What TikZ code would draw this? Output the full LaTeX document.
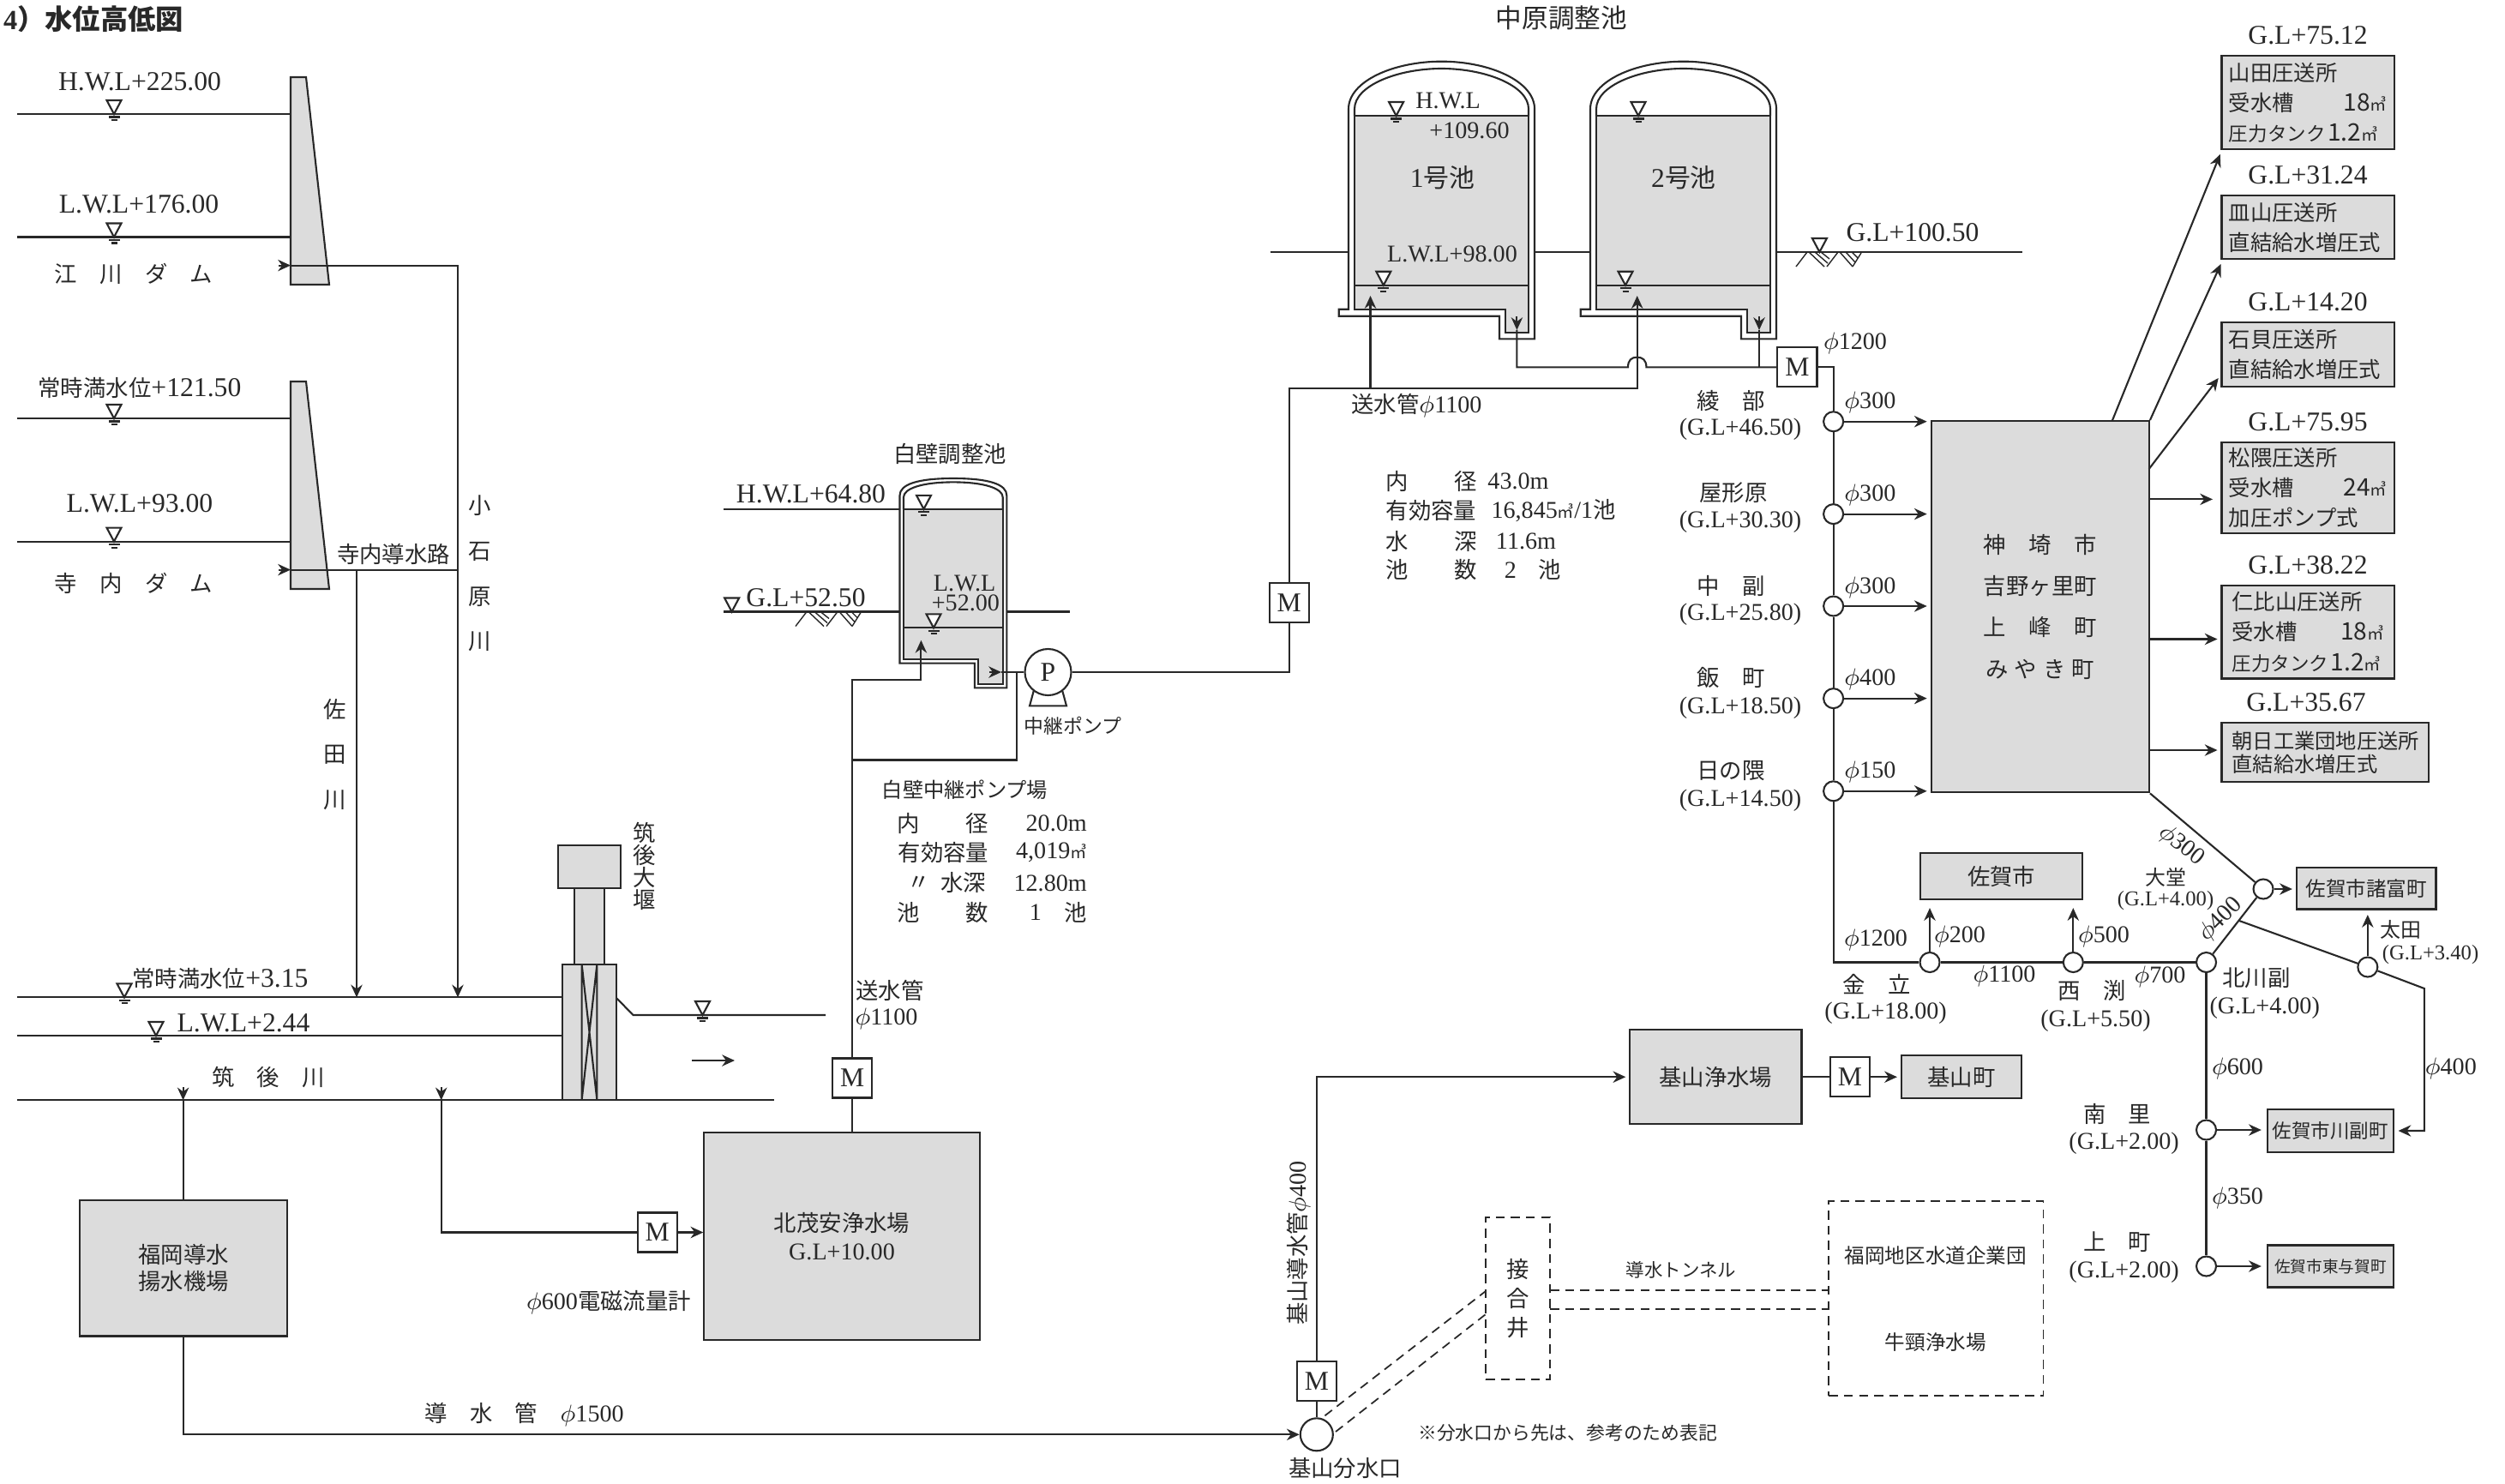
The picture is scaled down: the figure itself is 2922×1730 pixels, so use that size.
\documentclass[tikz,border=0pt]{standalone}
\usepackage{fontspec}
\usepackage{xcolor}
\usetikzlibrary{arrows.meta,positioning,shapes}
\setmainfont{Liberation Serif}
\newfontfamily\jp{Noto Sans CJK JP}
\definecolor{ink}{RGB}{40,40,40}
\definecolor{basegray}{RGB}{220,220,220}
\newcommand{\fsjp}{\fontsize{7.5}{9}\selectfont}
\newcommand{\fsnum}{\fontsize{9}{11}\selectfont}
\newcommand{\fsnar}{\fontsize{8}{10}\selectfont}
\newcommand{\jt}[1]{{\jp\fsjp #1}}
\newcommand{\jts}[1]{{\jp\fontsize{6.4}{8}\selectfont #1}}
\newcommand{\cbm}{{\jp\fontsize{5.5}{6}\selectfont ㎥}}
\newcommand{\dia}{$\phi$}
\newcommand{\wtri}[2]{\draw[fill=white] (#1-8.5,#2-16) -- (#1+8.5,#2-16) -- (#1,#2) -- cycle;}
\newcommand{\wlevel}[2]{\wtri{#1}{#2}
  \draw (#1-6.5,#2+3.5) -- (#1+6.5,#2+3.5) (#1-3.5,#2+7) -- (#1+3.5,#2+7);}
\newcommand{\hatchg}[2]{\draw[line width=0.4pt] (#1,#2+17) -- (#1+13,#2) (#1+36,#2+17) -- (#1+49,#2) (#1+66,#2+17) -- (#1+76,#2+1)
  (#1+15,#2) -- (#1+33,#2+17) (#1+22,#2) -- (#1+37,#2+13) (#1+29,#2) -- (#1+39,#2+8)
  (#1+51,#2) -- (#1+66,#2+17) (#1+58,#2) -- (#1+69,#2+12) (#1+65,#2) -- (#1+72,#2+7);}
\newcommand{\damwall}[1]{\draw[fill=basegray] (339,#1) -- (357,#1) -- (384,#1+242) -- (339,#1+242) -- cycle;}
\newcommand{\tankbody}{
  \draw[fill=white] (1573,360.7) -- (1573,127) .. controls (1573,95) and (1625,71.7) .. (1681.5,71.7) .. controls (1738,71.7) and (1790,95) .. (1790,127) -- (1790,395.3) -- (1749,395.3) -- (1749,368.7) -- (1561.7,368.7) -- (1561.7,360.7) -- cycle;
  \draw (1580,135) -- (1580,127) .. controls (1580,100) and (1630,80) .. (1681.5,80) .. controls (1733,80) and (1783,100) .. (1783,127) -- (1783,135);
  \draw[fill=basegray] (1580,135) -- (1783,135) -- (1783,388) -- (1756,388) -- (1756,360.7) -- (1580,360.7) -- cycle;
  \draw (1580,332.7) -- (1783,332.7);}
\tikzset{
  jtext/.style={font=\jp\fsjp},
  num/.style={font=\fsnum},
  nar/.style={font=\fsnar},
  vtext/.style={align=center,font=\jp\fontsize{7.5}{#1}\selectfont},
  plant/.style={draw,fill=basegray,align=center,font=\jp\fsjp},
  town/.style={draw,fill=basegray,align=left,font=\jp\fontsize{7.2}{10}\selectfont},
  meter/.style={draw,fill=white,minimum width=0.46cm,minimum height=0.46cm,font=\fsnum},
  valve/.style={draw,circle,fill=white,minimum size=0.23cm},
  broken/.style={densely dashed,line width=0.5pt}
}
\begin{document}
\begin{tikzpicture}[x=0.01cm,y=-0.01cm,line width=0.6pt,color=ink,>={Stealth[length=4.2pt,width=3.8pt]},every node/.style={inner sep=0pt}]
\useasboundingbox (0,0) rectangle (2922,1730);
\node[anchor=west,font=\fontsize{9.2}{11}\selectfont\bfseries] (title) at (3,22) {4{\jp ）水位高低図}};

\damwall{90}
\damwall{445}
\draw (20,133) -- (339,133);
\draw (20,276.5) -- (339,276.5);
\draw (20,488) -- (339,488);
\draw (20,631.6) -- (339,631.6);
\wlevel{133}{133}
\wlevel{133}{276.5}
\wlevel{133}{488}
\wlevel{133}{631.6}
\node[num] (hwlEgawa) at (163,95) {H.W.L+225.00};
\node[num] (lwlEgawa) at (162,238) {L.W.L+176.00};
\node[jtext] (egawa) at (156,319) {江　川　ダ　ム};
\node[num] (hwlTera) at (163,452) {\jt{常時満水位}+121.50};
\node[num] (lwlTera) at (163,587.5) {L.W.L+93.00};
\node[jtext] (terauchi) at (156,680) {寺　内　ダ　ム};
\node[jtext] (terauchiCh) at (459,646) {寺内導水路};
\node[vtext=15] (koishi) at (560,669) {小\\石\\原\\川};
\node[vtext=15] (sada) at (391,880) {佐\\田\\川};

\coordinate (egawaTail) at (325,309.6);
\coordinate (egawaIn) at (339,309.6);
\coordinate (teraTail) at (325,664.6);
\coordinate (teraIn) at (339,664.6);
\coordinate (koishiEnd) at (534,1163.4);
\coordinate (teraJoin) at (534,664.6);
\coordinate (sadaTop) at (416,664.6);
\coordinate (sadaEnd) at (416,1163.4);
\draw[->] (egawaTail) -- (egawaIn);
\draw[->] (teraTail) -- (teraIn);
\draw[->] (egawaIn) -| (koishiEnd);
\draw (teraIn) -- (teraJoin);
\draw[->] (sadaTop) -- (sadaEnd);

\draw (20,1163.4) -- (656,1163.4);
\draw (20,1208) -- (656,1208);
\draw (20,1283.3) -- (903,1283.3);
\draw[fill=basegray] (651,986) rectangle (724,1035.6);
\draw[fill=basegray] (670,1035.6) rectangle (705,1124.6);
\draw[fill=basegray] (656,1124.6) rectangle (719,1283.3);
\draw (678.6,1124.6) -- (678.6,1283.3) (696.4,1124.6) -- (696.4,1283.3) (678.6,1124.6) -- (696.4,1283.3) (696.4,1124.6) -- (678.6,1283.3);
\draw (719,1164) -- (738.5,1184) -- (963,1184);
\wlevel{145}{1163.4}
\wlevel{182}{1208}
\wlevel{819.5}{1184}
\node[num] (fullTikugo) at (257,1141.5) {\jt{常時満水位}+3.15};
\node[num] (lwlTikugo) at (284,1193) {L.W.L+2.44};
\node[jtext] (tikugo) at (313,1256) {筑　後　川};
\node[vtext=7.4] (weir) at (752,1010) {筑\\後\\大\\堰};
\coordinate (flowTail) at (807,1237);
\coordinate (flowHead) at (857,1237);
\draw[->] (flowTail) -- (flowHead);

\node[plant,minimum width=2.42cm,minimum height=1.585cm,font=\jp\fontsize{7.5}{8.8}\selectfont] (fukuoka) at (214,1479.2) {福岡導水\\揚水機場};
\node[plant,minimum width=3.21cm,minimum height=2.42cm,font=\fontsize{8}{9.4}\selectfont] (kita) at (982,1442) {\jt{北茂安浄水場}\\G.L+10.00};
\node[meter] (mSaga) at (766.7,1437.5) {M};
\node[meter] (mKita) at (994.3,1257.5) {M};
\node[nar] (flowmeter) at (710,1519.6) {\dia{}600\jt{電磁流量計}};
\node[nar] (sendB) at (1038,1155) {\jt{送水管}};
\node[nar] (sendD) at (1034,1188) {\dia{}1100};
\node[nar] (intakeLbl) at (611.6,1650.5) {\jt{導　水　管　}\dia{}1500};
\coordinate (fukuTail) at (213.6,1268);
\coordinate (fukuIn) at (213.6,1283.3);
\coordinate (sagaTail) at (514.7,1268);
\coordinate (sagaIn) at (514.7,1283.3);
\draw[->] (fukuTail) -- (fukuIn);
\draw (fukuIn) -- (fukuoka.north -| fukuIn);
\draw[->] (sagaTail) -- (sagaIn);
\draw (sagaIn) |- (mSaga);
\draw[->] (mSaga) -- (kita.west |- mSaga);
\draw (mKita) -- (mKita |- kita.north);

\draw[fill=white] (1049.5,773.6) -- (1049.5,578) .. controls (1049.5,565) and (1070,558) .. (1112,558) .. controls (1154,558) and (1174.3,565) .. (1174.3,578) -- (1174.3,802.3) -- (1136.8,802.3) -- (1136.8,773.6) -- cycle;
\draw (1054,593.8) -- (1054,580) .. controls (1054,570) and (1075,562.4) .. (1112,562.4) .. controls (1149,562.4) and (1169.7,570) .. (1169.7,580) -- (1169.7,593.8);
\draw[fill=basegray] (1054,593.8) -- (1169.7,593.8) -- (1169.7,797.7) -- (1141.4,797.7) -- (1141.4,769) -- (1054,769) -- cycle;
\draw (1054,732.3) -- (1169.7,732.3);
\draw (844.4,593.8) -- (1049.5,593.8);
\draw (844.4,713.5) -- (1049.5,713.5);
\draw (1174.3,713.5) -- (1247.8,713.5);
\wlevel{1077.5}{593.8}
\wlevel{1089}{732.3}
\wtri{853.6}{713.5}
\hatchg{928}{713.5}
\node[jtext] (shirakabe) at (1108,529) {白壁調整池};
\node[num] (hwlShira) at (946,576) {H.W.L+64.80};
\node[num] (glShira) at (940,697) {G.L+52.50};
\node[nar] (lwlShira) at (1125,680) {L.W.L};
\node[nar] (lwlShiraV) at (1126.4,703.6) {+52.00};
\node[draw,circle,fill=white,minimum size=0.54cm,font=\fsnum] (pump) at (1222.5,784) {P};
\draw (1205.7,806) -- (1201,823.4) -- (1244,823.4) -- (1239.3,806);
\node[font=\jp\fontsize{6.5}{8}\selectfont] (relay) at (1251.6,847) {中継ポンプ};
\coordinate (pumpTail) at (1154,784);
\coordinate (pumpIn) at (1168,784);
\coordinate (pumpT) at (1185.8,784);
\coordinate (relayJoin) at (994.3,886.5);
\coordinate (upBend) at (994.3,792.8);
\coordinate (shiraIn) at (1074.4,746.8);
\draw[->] (pumpTail) -- (pumpIn);
\draw (pump) -- (pumpIn);
\draw (pumpT) |- (relayJoin);
\draw[->] (mKita) -- (upBend) -| (shiraIn);

\node[anchor=west,font=\jp\fontsize{6.9}{8}\selectfont] (relayName) at (1027.7,921) {白壁中継ポンプ場};
\node[jtext] (rowA) at (1060,960.4) {内};
\node[jtext] (rowAb) at (1140,960.4) {径};
\node[nar,anchor=east] (rowAv) at (1268.8,960.4) {20.0m};
\node[jtext] (rowB) at (1100.4,994.4) {有効容量};
\node[nar,anchor=east] (rowBv) at (1268.8,994.4) {4,019\cbm};
\node[jtext] (rowC) at (1071.7,1030) {〃};
\node[jtext] (rowCb) at (1123.4,1030) {水深};
\node[nar,anchor=east] (rowCv) at (1268.8,1030) {12.80m};
\node[jtext] (rowD) at (1060,1064.5) {池};
\node[jtext] (rowDb) at (1140,1064.5) {数};
\node[nar] (rowDv) at (1208,1064.5) {1};
\node[jtext] (rowDu) at (1255,1064.5) {池};

\draw (1481.6,294) -- (1573,294);
\draw (1790,294) -- (1855,294);
\draw (2072,294) -- (2358.7,294);
\tankbody
\begin{scope}[shift={(282,0)}]
\tankbody
\end{scope}
\wlevel{1628.6}{135}
\wlevel{1613.8}{332.7}
\wlevel{1911}{135}
\wlevel{1896}{332.7}
\wtri{2122.4}{294}
\hatchg{2095}{294}
\node[font=\jp\fontsize{8.7}{10}\selectfont] (nakabaru) at (1821.4,20.7) {中原調整池};
\node[nar] (hwlNaka) at (1689,117) {H.W.L};
\node[nar] (hwlNakaV) at (1714,152.7) {+109.60};
\node[nar] (lwlNaka) at (1694,296) {L.W.L+98.00};
\node[num] (poolA) at (1682.7,206.7) {1{\jp\fontsize{8.5}{10}\selectfont 号池}};
\node[num] (poolB) at (1964,206.7) {2{\jp\fontsize{8.5}{10}\selectfont 号池}};
\node[num] (glNaka) at (2231,270.7) {G.L+100.50};
\node[meter] (mTrans) at (1503.6,702.7) {M};
\node[meter] (mNaka) at (2096.4,428.3) {M};
\node[nar] (sendNaka) at (1652.4,472.8) {\jt{送水管}\dia{}1100};
\node[nar] (dia1200) at (2164,400) {\dia{}1200};
\coordinate (transBend) at (1503.6,452.7);
\coordinate (feedA) at (1598.5,452.7);
\coordinate (inA) at (1598.5,345);
\coordinate (inB) at (1909.7,345);
\coordinate (outATail) at (1769.4,369);
\coordinate (outA) at (1769.4,385);
\coordinate (outBTail) at (2052,369);
\coordinate (outB) at (2052,385);
\coordinate (outBJoin) at (2052,428.3);
\coordinate (hopL) at (1899,428.3);
\coordinate (hopT) at (1909.7,416.7);
\coordinate (hopR) at (1920.4,428.3);
\draw (pump) -| (mTrans);
\draw[->] (mTrans) -- (transBend) -| (inB);
\draw[->] (feedA) -- (inA);
\draw[->] (outATail) -- (outA);
\draw[->] (outBTail) -- (outB);
\draw (outB) -- (outBJoin);
\draw (outA) |- (hopL) .. controls (1899,420) and (1903,416.7) .. (hopT) .. controls (1916,416.7) and (1920.4,420) .. (hopR) -- (mNaka);

\node[jtext] (rowE) at (1630,561.7) {内};
\node[jtext] (rowEb) at (1709.6,561.7) {径};
\node[nar] (rowEv) at (1771,561.7) {43.0m};
\node[jtext] (rowF) at (1669.4,596) {有効容量};
\node[nar] (rowFv) at (1812,596) {16,845\cbm/1\jt{池}};
\node[jtext] (rowG) at (1630,631.7) {水};
\node[jtext] (rowGb) at (1709.6,631.7) {深};
\node[nar] (rowGv) at (1780,631.7) {11.6m};
\node[jtext] (rowH) at (1630,664.8) {池};
\node[jtext] (rowHb) at (1709.6,664.8) {数};
\node[nar] (rowHv) at (1761.8,664.8) {2};
\node[jtext] (rowHu) at (1808,664.8) {池};

\node[plant,minimum width=2.54cm,minimum height=4.33cm,font=\jp\fontsize{7.5}{13.7}\selectfont] (central) at (2379.8,707.7) {神　埼　市\\吉野ヶ里町\\上　峰　町\\み\hspace{2pt}や\hspace{2pt}き\hspace{2pt}町};
\node[valve] (ayabe) at (2138.6,491.7) {};
\node[valve] (yakata) at (2138.6,599.6) {};
\node[valve] (nakasoe) at (2138.6,707) {};
\node[valve] (iimachi) at (2138.6,814.6) {};
\node[valve] (hinokuma) at (2138.6,922.8) {};
\node[jtext] (ayabeN) at (2019,467) {綾　部};
\node[nar] (ayabeG) at (2030,501) {(G.L+46.50)};
\node[jtext] (yakataN) at (2022,574.5) {屋形原};
\node[nar] (yakataG) at (2030,609) {(G.L+30.30)};
\node[jtext] (nakasoeN) at (2019,683.4) {中　副};
\node[nar] (nakasoeG) at (2030,717) {(G.L+25.80)};
\node[jtext] (iimachiN) at (2019,790.6) {飯　町};
\node[nar] (iimachiG) at (2030,825.4) {(G.L+18.50)};
\node[jtext] (hinokumaN) at (2019,899) {日の隈};
\node[nar] (hinokumaG) at (2030,933.6) {(G.L+14.50)};
\node[nar] (ayabeD) at (2181.4,469.7) {\dia{}300};
\node[nar] (yakataD) at (2181.4,577) {\dia{}300};
\node[nar] (nakasoeD) at (2181.4,685) {\dia{}300};
\node[nar] (iimachiD) at (2181.4,792.6) {\dia{}400};
\node[nar] (hinokumaD) at (2181.4,900.5) {\dia{}150};
\draw (mNaka) -| (ayabe);
\draw (ayabe) -- (yakata);
\draw (yakata) -- (nakasoe);
\draw (nakasoe) -- (iimachi);
\draw (iimachi) -- (hinokuma);
\draw[->,shorten >=0.04cm] (ayabe) -- (ayabe -| central.west);
\draw[->,shorten >=0.04cm] (yakata) -- (yakata -| central.west);
\draw[->,shorten >=0.04cm] (nakasoe) -- (nakasoe -| central.west);
\draw[->,shorten >=0.04cm] (iimachi) -- (iimachi -| central.west);
\draw[->,shorten >=0.04cm] (hinokuma) -- (hinokuma -| central.west);

\node[town,minimum width=2.01cm,minimum height=1.085cm,text width=1.84cm] (yamada) at (2692,119.7) {山田圧送所\\受水槽\hfill{\fsnar 18}\cbm\hspace*{3pt}\\\jts{圧力タンク}\hfill{\fsnar 1.2}\cbm\hspace*{3pt}};
\node[town,minimum width=2.01cm,minimum height=0.74cm,text width=1.84cm] (sarayama) at (2692,265) {皿山圧送所\\直結給水増圧式};
\node[town,minimum width=2.01cm,minimum height=0.75cm,text width=1.84cm] (ishigai) at (2692,413.5) {石貝圧送所\\直結給水増圧式};
\node[town,minimum width=2.01cm,minimum height=1.06cm,text width=1.84cm] (matsukuma) at (2692,569) {松隈圧送所\\受水槽\hfill{\fsnar 24}\cbm\hspace*{3pt}\\加圧ポンプ式};
\node[town,minimum width=2.01cm,minimum height=1.085cm,text width=1.77cm] (nihiyama) at (2692,737.2) {仁比山圧送所\\受水槽\hfill{\fsnar 18}\cbm\hspace*{1pt}\\\jts{圧力タンク}\hfill{\fsnar 1.2}\cbm\hspace*{1pt}};
\node[town,minimum width=2.41cm,minimum height=0.69cm,text width=2.17cm,font=\jp\fontsize{6.9}{7.6}\selectfont] (asahi) at (2712,877.5) {朝日工業団地圧送所\\直結給水増圧式};
\node[num,above=0.11cm of yamada] (glYamada) {G.L+75.12};
\node[num,above=0.11cm of sarayama] (glSarayama) {G.L+31.24};
\node[num,above=0.11cm of ishigai] (glIshigai) {G.L+14.20};
\node[num,above=0.11cm of matsukuma] (glMatsukuma) {G.L+75.95};
\node[num,above=0.11cm of nihiyama] (glNihiyama) {G.L+38.22};
\node[num,above=0.11cm of asahi,xshift=-0.22cm] (glAsahi) {G.L+35.67};
\coordinate (yamadaFrom) at (2463.5,491.5);
\coordinate (yamadaTip) at (2589.7,180);
\coordinate (saraTip) at (2590.5,308);
\coordinate (ishiFrom) at (2506.7,547);
\coordinate (ishiTip) at (2587.7,441);
\coordinate (matsuFrom) at (2506.7,582.4);
\coordinate (matsuTip) at (2581,582.4);
\coordinate (nihiFrom) at (2506.7,745.5);
\coordinate (nihiTip) at (2586.5,745.5);
\coordinate (asahiFrom) at (2506.7,875);
\coordinate (asahiTip) at (2586.5,875);
\draw[->] (yamadaFrom) -- (yamadaTip);
\draw[->] (central.north east) -- (saraTip);
\draw[->] (ishiFrom) -- (ishiTip);
\draw[->] (matsuFrom) -- (matsuTip);
\draw[->] (nihiFrom) -- (nihiTip);
\draw[->] (asahiFrom) -- (asahiTip);

\node[plant,minimum width=1.89cm,minimum height=0.54cm] (saga) at (2334.6,1022) {佐賀市};
\node[plant,minimum width=1.625cm,minimum height=0.485cm,font=\jp\fontsize{6.7}{8}\selectfont] (morodomi) at (2760.2,1036.2) {佐賀市諸富町};
\node[plant,minimum width=1.47cm,minimum height=0.5cm,font=\jp\fontsize{6.4}{8}\selectfont] (kawasoe) at (2718.4,1319) {佐賀市川副町};
\node[plant,minimum width=1.47cm,minimum height=0.49cm,font=\jp\fontsize{5.3}{7}\selectfont] (yoga) at (2718.4,1477) {佐賀市東与賀町};
\node[valve] (kanadachi) at (2251,1122.5) {};
\node[valve] (nishibuchi) at (2418.3,1122.5) {};
\node[valve] (kitakawa) at (2573.5,1122.5) {};
\node[valve] (oodou) at (2640,1037) {};
\node[valve] (oota) at (2761.8,1128) {};
\node[valve] (minamisato) at (2573.5,1318) {};
\node[valve] (uemachi) at (2573.5,1477) {};
\coordinate (branch) at (2612,1074);
\coordinate (branchBend) at (2827.8,1153);
\draw (hinokuma) |- (kanadachi);
\draw (kanadachi) -- (nishibuchi);
\draw (nishibuchi) -- (kitakawa);
\draw (kitakawa) -- (oodou);
\draw (kitakawa) -- (minamisato);
\draw (minamisato) -- (uemachi);
\draw (central.south east) -- (oodou);
\draw (branch) -- (oota);
\draw[->,shorten >=0.045cm] (oota) -- (branchBend) |- (kawasoe.east);
\draw[->,shorten >=0.09cm] (kanadachi) -- (kanadachi |- saga.south);
\draw[->,shorten >=0.09cm] (nishibuchi) -- (nishibuchi |- saga.south);
\draw[->,shorten >=0.04cm] (oodou) -- (oodou -| morodomi.west);
\draw[->,shorten >=0.055cm] (oota) -- (oota |- morodomi.south);
\draw[->,shorten >=0.06cm] (minamisato) -- (minamisato -| kawasoe.west);
\draw[->,shorten >=0.06cm] (uemachi) -- (uemachi -| yoga.west);
\node[nar] (kanadachiD) at (2188,1096.4) {\dia{}1200};
\node[nar] (kanaUp) at (2286,1092.5) {\dia{}200};
\node[nar] (nishiUp) at (2454,1092.5) {\dia{}500};
\node[nar] (kanaNishi) at (2338,1138.7) {\dia{}1100};
\node[nar] (nishiKita) at (2519.5,1139) {\dia{}700};
\node[jtext] (kanadachiN) at (2189,1148) {金　立};
\node[nar] (kanadachiG) at (2199.6,1182) {(G.L+18.00)};
\node[jtext] (nishibuchiN) at (2440,1155.7) {西　渕};
\node[nar] (nishibuchiG) at (2444.5,1190.5) {(G.L+5.50)};
\node[jtext] (kitakawaN) at (2632,1141) {北川副};
\node[nar] (kitakawaG) at (2641.7,1175.5) {(G.L+4.00)};
\node[font=\jp\fontsize{6.8}{8}\selectfont] (oodouN) at (2526.3,1023.7) {大堂};
\node[font=\fontsize{7}{8}\selectfont] (oodouG) at (2526,1051) {(G.L+4.00)};
\node[font=\jp\fontsize{6.8}{8}\selectfont] (ootaN) at (2800,1084.6) {太田};
\node[font=\fontsize{7}{8}\selectfont] (ootaG) at (2835,1113.4) {(G.L+3.40)};
\node[nar,rotate=-38] (diaOodou) at (2544.7,986) {\dia{}300};
\node[nar,rotate=45] (diaKita) at (2590,1072.7) {\dia{}400};
\node[nar] (diaMinami) at (2610,1246) {\dia{}600};
\node[nar] (diaUe) at (2610,1397) {\dia{}350};
\node[nar] (diaOota) at (2858.8,1246) {\dia{}400};
\node[jtext] (minamisatoN) at (2469.7,1299) {南　里};
\node[nar] (minamisatoG) at (2477.6,1334) {(G.L+2.00)};
\node[jtext] (uemachiN) at (2469.7,1448.6) {上　町};
\node[nar] (uemachiG) at (2477.6,1484) {(G.L+2.00)};

\node[plant,minimum width=2cm,minimum height=1.096cm] (kiyamaPlant) at (2001.4,1256.2) {基山浄水場};
\node[meter] (mKiyamaB) at (2158,1256.2) {M};
\node[plant,minimum width=1.4cm,minimum height=0.5cm] (kiyamaTown) at (2288,1256.2) {基山町};
\node[meter] (mKiyamaA) at (1535.8,1611) {M};
\node[draw,circle,fill=white,minimum size=0.38cm] (bunsui) at (1535.8,1673.3) {};
\node[jtext] (bunsuiN) at (1569,1713) {基山分水口};
\node[nar,rotate=90] (kiyamaPipe) at (1514.8,1450) {\jt{基山導水管}\dia{}400};
\draw[->] (fukuoka) |- (bunsui);
\draw (bunsui) -- (mKiyamaA);
\draw[->,shorten >=0.04cm] (mKiyamaA) |- (kiyamaPlant);
\draw (kiyamaPlant) -- (mKiyamaB);
\draw[->,shorten >=0.04cm] (mKiyamaB) -- (kiyamaTown);

\node[draw,broken,minimum width=0.75cm,minimum height=1.886cm,align=center,font=\jp\fontsize{7.5}{9.6}\selectfont] (setsugo) at (1770.5,1514.7) {接\\合\\井};
\node[draw,broken,minimum width=2.5cm,minimum height=2.27cm] (ushikubi) at (2258.4,1514.5) {};
\node[font=\jp\fontsize{6.7}{8}\selectfont] (kigyodan) at (2257.8,1465) {福岡地区水道企業団};
\node[font=\jp\fontsize{6.7}{8}\selectfont] (ushikubiN) at (2257.8,1566) {牛頸浄水場};
\node[font=\jp\fontsize{6.1}{8}\selectfont] (tunnel) at (1961,1481) {導水トンネル};
\node[font=\jp\fontsize{6.2}{8}\selectfont] (note) at (1828.6,1671) {※分水口から先は、参考のため表記};
\coordinate (tunAL) at (1808,1504.6);
\coordinate (tunAR) at (2133.4,1504.6);
\coordinate (tunBL) at (1808,1527);
\coordinate (tunBR) at (2133.4,1527);
\coordinate (diagAS) at (1545.4,1651.3);
\coordinate (diagAE) at (1733,1506);
\coordinate (diagBS) at (1558,1670);
\coordinate (diagBE) at (1733,1533);
\draw[broken] (tunAL) -- (tunAR);
\draw[broken] (tunBL) -- (tunBR);
\draw[broken] (diagAS) -- (diagAE);
\draw[broken] (diagBS) -- (diagBE);
\end{tikzpicture}
\end{document}
